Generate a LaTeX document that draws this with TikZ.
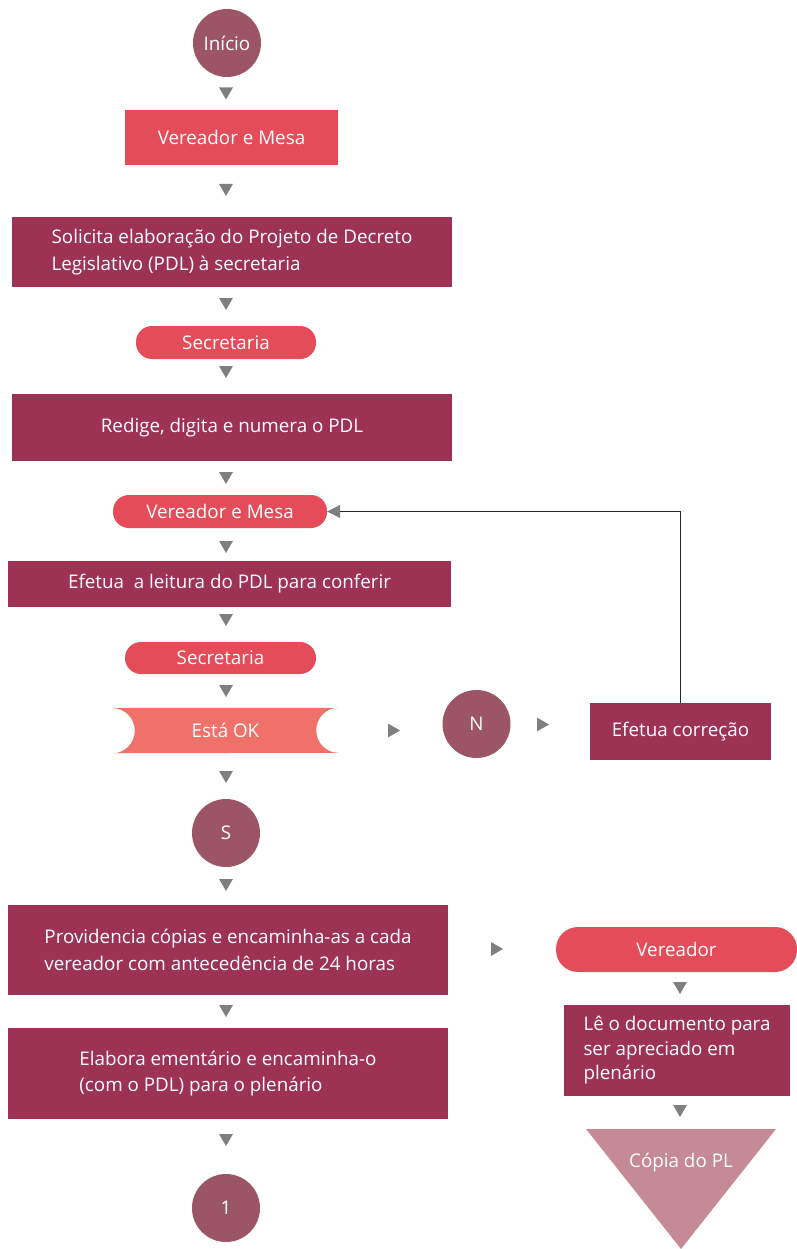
\documentclass[tikz,border=0pt]{standalone}
\usepackage{fontspec}
\setmainfont{Open Sans}
\usetikzlibrary{arrows.meta,shapes.geometric}
\definecolor{darkbox}{HTML}{9D3255}
\definecolor{redpill}{HTML}{E44C5A}
\definecolor{circ}{HTML}{9B5566}
\definecolor{salmon}{HTML}{F0706A}
\definecolor{rosetri}{HTML}{C58A96}
\definecolor{arrowgray}{HTML}{7F7F82}
\begin{document}
\begin{tikzpicture}[x=1pt,y=-1pt,
  txt/.style={text=white,font=\fontsize{18.8}{26.5}\selectfont,inner sep=0pt},
  box/.style={txt,fill=darkbox,align=center},
  redbox/.style={txt,fill=redpill},
  pill/.style={txt,fill=redpill,rounded corners=16},
  circnode/.style={txt,circle,fill=circ,minimum size=68pt},
  dtri/.style={regular polygon,regular polygon sides=3,shape border rotate=180,fill=arrowgray,inner sep=0pt,minimum size=16pt},
  rtri/.style={regular polygon,regular polygon sides=3,shape border rotate=-90,fill=arrowgray,inner sep=0pt,minimum size=16pt},
  fb/.style={line width=1pt,draw=black!85,-{Triangle[length=13pt,width=13pt,color=arrowgray]}}
]
\useasboundingbox[fill=white] (0,0) rectangle (796,1249);

% main column
\node[circnode] (inicio) at (227,43) {Início};
\node[dtri] (t1) at (226,91.5) {};
\node[redbox,minimum width=213pt,minimum height=55pt] (vm1) at (231.5,137.5) {Vereador e Mesa};
\node[dtri] (t2) at (226,188) {};
\node[box,minimum width=440pt,minimum height=69pt,align=left] (sol) at (232,252) {Solicita elaboração do Projeto de Decreto\\Legislativo (PDL) à secretaria};
\node[dtri] (t3) at (226,302) {};
\node[pill,minimum width=180pt,minimum height=33pt] (sec1) at (226,342.5) {Secretaria};
\node[dtri] (t4) at (226,370) {};
\node[box,minimum width=440pt,minimum height=67pt] (red) at (232,427.5) {Redige, digita e numera o PDL};
\node[dtri] (t5) at (226,476) {};
\node[pill,minimum width=214pt,minimum height=33pt] (vm2) at (220,511.5) {Vereador e Mesa};
\node[dtri] (t6) at (226,545) {};
\node[box,minimum width=443pt,minimum height=46pt] (efe) at (229.5,584) {Efetua\ \ a leitura do PDL para conferir};
\node[dtri] (t7) at (226,618) {};
\node[pill,minimum width=191pt,minimum height=32pt] (sec2) at (220.5,658) {Secretaria};
\node[dtri] (t8) at (226,689) {};

% Está OK shape
\node[txt,minimum width=225pt,minimum height=45pt] (ok) at (225.5,730.5) {};
\fill[salmon] (ok.north west) -- (ok.north east)
  arc[start angle=270,end angle=90,x radius=22,y radius=22.5]
  -- (ok.south west)
  arc[start angle=90,end angle=-90,x radius=22,y radius=22.5] -- cycle;
\node[txt] (oklabel) at (ok.center) {Está OK};

\node[rtri] (r1) at (392,730.5) {};
\node[circnode] (n) at (476.5,724) {N};
\node[rtri] (r2) at (541,724.5) {};
\node[box,minimum width=181pt,minimum height=57pt] (cor) at (680.5,731.5) {Efetua correção};
\draw[fb] (cor.north) |- (vm2.east);

\node[dtri] (t9) at (226,775) {};
\node[circnode] (s) at (226,833) {S};
\node[dtri] (t10) at (226,883) {};
\node[box,minimum width=440pt,minimum height=90pt,align=left] (prov) at (228,950) {Providencia cópias e encaminha-as a cada\\vereador com antecedência de 24 horas};
\node[dtri] (t11) at (226,1009) {};
\node[box,minimum width=440pt,minimum height=91pt,align=left] (ela) at (228,1073.5) {Elabora ementário e encaminha-o\\(com o PDL) para o plenário};
\node[dtri] (t12) at (226,1138) {};
\node[circnode] (one) at (226,1208) {1};

% right column
\node[rtri] (r3) at (495,949) {};
\node[pill,rounded corners=22,minimum width=241pt,minimum height=45pt] (ver) at (676.5,949.5) {Vereador};
\node[dtri] (t13) at (680,986) {};
\node[box,minimum width=226pt,minimum height=91pt,align=left,font=\fontsize{18.8}{24.5}\selectfont] (le) at (677,1050.5) {Lê o documento para\\ser apreciado em\\plenário};
\node[dtri] (t14) at (680,1109) {};
\coordinate (cpl) at (586,1129);
\coordinate (cpr) at (776,1129);
\coordinate (cpb) at (681,1249);
\fill[rosetri] (cpl) -- (cpr) -- (cpb) -- cycle;
\node[txt] (copia) at (681,1163) {Cópia do PL};
\end{tikzpicture}
\end{document}
